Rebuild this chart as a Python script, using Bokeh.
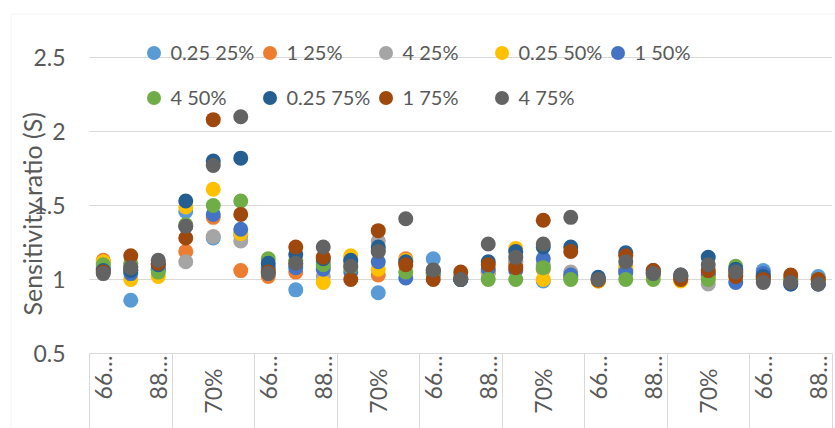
import math
from bokeh.plotting import figure
from bokeh.models import Range1d, FixedTicker, LinearAxis, Legend, LegendItem, BoxAnnotation
from bokeh.embed import file_html
from bokeh.resources import INLINE

# ---------------- data ----------------
inner_labels = ["66…", "70%", "88…"]
n_groups = 9
categories = inner_labels * n_groups
label_every = 2

series_names = ["0.25 25%", "1 25%", "4 25%", "0.25 50%", "1 50%",
                "4 50%", "0.25 75%", "1 75%", "4 75%"]
series_colors = ["#5B9BD5", "#ED7D31", "#A5A5A5", "#FFC000", "#4472C4",
                 "#70AD47", "#255E91", "#9E480E", "#636363"]

s_025_25 = [1.08, 0.86, 1.06, 1.46, 1.28, 1.30, 1.05, 0.93, 1.09, 1.12, 0.91, 1.13, 1.14, 1.00,
            1.05, 1.12, 0.99, 1.01, 1.00, 1.07, 1.04, 1.02, 1.02, 1.03, 1.06, 0.99, 1.02]
s_1_25 = [1.13, 1.06, 1.08, 1.19, 1.42, 1.06, 1.02, 1.05, 1.12, 1.14, 1.03, 1.14, 1.05, 1.02,
          1.05, 1.10, 1.07, 1.02, 0.99, 1.06, 1.05, 1.01, 1.03, 1.04, 1.02, 1.01, 1.00]
s_4_25 = [1.11, 1.09, 1.10, 1.12, 1.29, 1.26, 1.06, 1.10, 1.02, 1.10, 1.26, 1.12, 1.05, 1.01,
          1.04, 1.12, 1.10, 1.05, 1.00, 1.04, 1.03, 1.01, 0.97, 1.06, 1.01, 0.99, 0.99]
s_025_50 = [1.12, 1.00, 1.02, 1.49, 1.61, 1.31, 1.07, 1.12, 0.98, 1.16, 1.07, 1.13, 1.04, 1.01,
            1.06, 1.21, 1.00, 1.02, 0.99, 1.09, 1.03, 0.99, 1.01, 1.05, 1.03, 1.00, 0.99]
s_1_50 = [1.07, 1.04, 1.07, 1.36, 1.44, 1.34, 1.08, 1.08, 1.07, 1.05, 1.12, 1.01, 1.03, 1.00,
          1.07, 1.06, 1.14, 1.03, 1.00, 1.05, 1.04, 1.02, 1.04, 0.98, 1.04, 0.97, 0.97]
s_4_50 = [1.10, 1.11, 1.05, 1.37, 1.50, 1.53, 1.14, 1.13, 1.10, 1.08, 1.20, 1.05, 1.04, 1.00,
          1.00, 1.00, 1.08, 1.00, 1.00, 1.00, 1.00, 1.02, 1.00, 1.09, 1.01, 1.00, 1.00]
s_025_75 = [1.06, 1.06, 1.10, 1.53, 1.80, 1.82, 1.11, 1.17, 1.14, 1.13, 1.22, 1.12, 1.06, 1.00,
            1.12, 1.19, 1.22, 1.22, 1.015, 1.18, 1.06, 1.03, 1.15, 1.07, 1.02, 0.97, 0.97]
s_1_75 = [1.05, 1.16, 1.11, 1.28, 2.08, 1.44, 1.05, 1.22, 1.15, 1.00, 1.33, 1.10, 1.00, 1.05,
          1.10, 1.08, 1.40, 1.19, 0.995, 1.16, 1.06, 1.00, 1.06, 1.02, 1.00, 1.03, 1.00]
s_4_75 = [1.04, 1.08, 1.13, 1.36, 1.77, 2.10, 1.04, 1.11, 1.22, 1.09, 1.19, 1.41, 1.065, 1.00,
          1.24, 1.15, 1.24, 1.42, 1.00, 1.12, 1.04, 1.03, 1.10, 1.05, 0.98, 0.98, 0.97]

series_values = [s_025_25, s_1_25, s_4_25, s_025_50, s_1_50,
                 s_4_50, s_025_75, s_1_75, s_4_75]

y_ticks = [0.5, 1, 1.5, 2, 2.5]
y_tick_labels = ["0.5", "1", "1.5", "2", "2.5"]
y_title = "Sensitivity ratio (S)"

# ---------------- layout / styling ----------------
W, H = 835, 428
PLOT_L, PLOT_R, PLOT_T, PLOT_B = 89, 831.5, 57, 353
FONT = "Lato"
TXT = "#595959"
LINE = "#d9d9d9"

n_cat = len(categories)
x_pos = [i + 0.5 for i in range(n_cat)]
group_size = len(inner_labels)
boundaries = [g * group_size for g in range(n_groups + 1)]
y_min, y_max = y_ticks[0], y_ticks[-1]

ppx = (PLOT_R - PLOT_L) / n_cat
ppy = (PLOT_B - PLOT_T) / (y_max - y_min)


def xd(px):
    return (px - PLOT_L) / ppx


def yd(py):
    return y_min + (PLOT_B - py) / ppy


p = figure(width=W, height=H, output_backend="svg", toolbar_location=None,
           x_range=Range1d(xd(0), xd(W)), y_range=Range1d(yd(H), yd(0)),
           x_axis_location=None, y_axis_location=None, min_border=0,
           min_border_left=0, min_border_right=0, min_border_top=0, min_border_bottom=0)
p.outline_line_color = None
p.background_fill_color = "white"
p.border_fill_color = "white"
p.xgrid.visible = False
p.ygrid.visible = False

# chart-area border (left & top edges visible in the crop)
p.add_layout(BoxAnnotation(left=xd(10.5), top=yd(13.5), right=xd(W + 50), bottom=yd(H + 50),
                           fill_color=None, line_color=LINE, line_width=1, level="underlay"))

# horizontal gridlines at the value ticks
p.segment(x0=[0] * len(y_ticks), x1=[n_cat] * len(y_ticks), y0=y_ticks, y1=y_ticks,
          line_color=LINE, line_width=1, level="underlay")

# value axis (title centred a little lower, as in the source)
yax = LinearAxis(fixed_location=0, bounds=(yd(PLOT_B + 16), y_max),
                 ticker=FixedTicker(ticks=y_ticks, minor_ticks=[]),
                 major_label_overrides=dict(zip(y_ticks, y_tick_labels)),
                 axis_line_color=None, major_tick_line_color=None, minor_tick_line_color=None,
                 major_tick_in=0, major_tick_out=0, minor_tick_in=0, minor_tick_out=0,
                 major_label_standoff=24, major_label_text_font=FONT,
                 major_label_text_font_size="23px", major_label_text_color=TXT,
                 axis_label=y_title, axis_label_text_font=FONT, axis_label_text_font_size="25px",
                 axis_label_text_font_style="normal", axis_label_text_color=TXT,
                 axis_label_standoff=-17)
p.add_layout(yax, "left")

# category axis line + separators between category groups
sep_axis = LinearAxis(fixed_location=y_min, bounds=(0, n_cat),
                      ticker=FixedTicker(ticks=boundaries, minor_ticks=[]),
                      major_tick_in=0, major_tick_out=H - PLOT_B, major_tick_line_color=LINE,
                      minor_tick_line_color=None, axis_line_color=LINE,
                      major_label_text_color=None)
p.add_layout(sep_axis, "below")

# category labels (every other category shown, as in the source), reading bottom-to-top
shown = [i for i in range(n_cat) if i % label_every == 0]
short = [i for i in shown if categories[i] != "70%"]
longer = [i for i in shown if categories[i] == "70%"]
for idxs, standoff in ((short, 2), (longer, 15)):
    ax = LinearAxis(fixed_location=y_min, bounds=(0, n_cat),
                    ticker=FixedTicker(ticks=[x_pos[i] for i in idxs], minor_ticks=[]),
                    major_label_overrides={x_pos[i]: categories[i] for i in idxs},
                    major_label_orientation=math.pi / 2, major_label_standoff=standoff,
                    major_tick_in=0, major_tick_out=0, major_tick_line_color=None,
                    minor_tick_line_color=None, axis_line_color=None,
                    major_label_text_font=FONT, major_label_text_font_size="23px",
                    major_label_text_color=TXT)
    p.add_layout(ax, "below")

# series
renderers = []
for name, col, vals in zip(series_names, series_colors, series_values):
    r = p.scatter(x=x_pos, y=vals, size=15, fill_color=col, line_color=None)
    renderers.append(r)

# legend: 5 columns x 2 rows, one legend per column for a uniform column pitch
n_leg_cols = 5
col_pitch = 116
first_marker_x = 153
row_center_y = 52
GLYPH = 35
SPACING = 10
for c in range(n_leg_cols):
    idx = list(range(c, len(series_names), n_leg_cols))
    items = [LegendItem(label=series_names[k], renderers=[renderers[k]]) for k in idx]
    h = GLYPH * len(idx) + SPACING * (len(idx) - 1)
    top = row_center_y - GLYPH / 2
    leg = Legend(items=items, orientation="vertical",
                 location=(first_marker_x + c * col_pitch - GLYPH / 2, H - top - h),
                 glyph_width=GLYPH, glyph_height=GLYPH, label_standoff=-3, spacing=SPACING,
                 padding=0, margin=0, border_line_color=None, background_fill_alpha=0,
                 label_text_font=FONT, label_text_font_size="20px", label_text_color=TXT)
    p.add_layout(leg, "center")

open("out.html", "w").write(file_html(p, INLINE))
